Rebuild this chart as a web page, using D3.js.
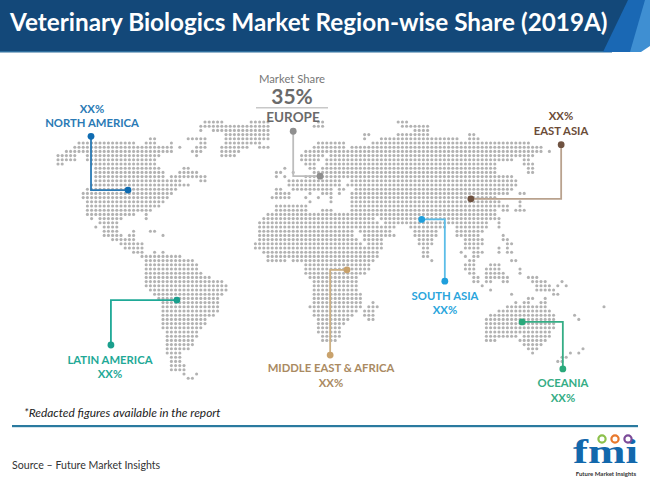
<!DOCTYPE html>
<html>
<head>
<meta charset="utf-8">
<script src="https://cdn.jsdelivr.net/npm/d3@7"></script>
<style>
html, body { margin: 0; padding: 0; background: #fff; }
svg { display: block; }
text { font-family: Lato, "Open Sans", sans-serif; }
</style>
</head>
<body>
<script>
// dot map, every entry is [row, first column, last column]
var arctic = [[0,35,39],[0,46,50],[1,34,39],[1,40,50],[2,34,34],[2,37,50],[3,40,50],[4,40,50],[5,40,48],[6,39,45],[6,48,50],[7,39,43],[8,39,42]];
var northAmerica = [[4,22,23],[4,31,33],[4,34,35],[5,5,13],[5,14,18],[5,21,22],[5,23,23],[5,27,27],[5,34,35],[6,4,27],[6,29,29],[6,33,35],[7,2,27],[7,32,34],[8,0,4],[8,7,24],[8,33,33],[9,0,4],[9,7,23],[10,0,1],[10,8,23],[11,9,24],[11,30,31],[12,9,25],[12,29,33],[13,9,25],[13,27,35],[14,9,29],[14,34,35],[15,8,31],[16,7,28],[17,6,27],[18,6,26],[19,7,25],[20,7,24],[21,7,22],[22,7,18],[22,21,21],[23,8,8],[23,10,15],[23,21,21],[24,10,14],[25,9,9],[25,11,14],[26,11,14],[26,18,18],[26,22,23],[27,11,15],[27,17,18],[27,25,25],[28,13,18],[29,15,20],[30,16,20],[31,18,20],[31,23,23],[31,25,25],[32,20,29]];
var southAmerica = [[33,21,32],[34,21,33],[35,21,33],[36,21,34],[37,21,36],[38,21,39],[39,21,40],[40,22,40],[41,23,39],[42,24,38],[43,25,38],[44,25,38],[45,25,38],[46,25,37],[47,25,35],[48,25,35],[49,25,34],[50,26,33],[51,26,33],[52,26,32],[53,26,32],[54,26,31],[55,26,29],[56,27,29],[57,27,29],[58,27,30],[59,27,30],[60,30,30],[60,33,33],[61,31,32]];
var eurasia = [[0,62,63],[0,81,83],[1,61,63],[1,82,88],[2,85,88],[3,73,74],[3,81,88],[3,98,99],[4,73,73],[4,77,95],[4,98,100],[5,62,68],[5,75,112],[6,61,68],[6,70,115],[7,59,68],[7,69,115],[7,117,117],[8,58,63],[8,65,113],[9,58,62],[9,64,108],[9,111,112],[10,59,61],[10,64,104],[10,111,113],[11,54,54],[11,60,61],[11,63,104],[11,112,113],[12,52,53],[12,56,56],[12,61,104],[12,112,113],[13,52,52],[13,54,54],[13,59,108],[14,55,67],[14,70,109],[15,55,67],[15,69,109],[16,52,53],[16,56,65],[16,67,68],[16,71,108],[17,52,55],[17,60,60],[17,63,65],[17,67,67],[17,70,107],[17,110,111],[18,51,55],[18,59,59],[18,62,62],[18,65,65],[18,70,104],[19,60,60],[19,65,65],[19,70,105],[19,110,110],[20,70,107],[20,110,110],[21,63,65],[21,70,104],[21,106,107],[21,109,111],[22,71,104],[23,70,75],[23,77,105],[24,71,76],[24,78,102],[24,105,105],[25,71,80],[25,84,92],[25,95,102],[25,105,105],[26,72,79],[26,85,90],[26,95,101],[27,73,80],[27,85,90],[27,95,100],[27,106,106],[28,73,77],[28,86,89],[28,97,101],[28,106,107],[29,74,77],[29,86,89],[29,97,101],[29,107,108],[30,74,77],[30,87,88],[30,97,100],[30,105,105],[30,107,107],[31,75,76],[31,87,88],[31,96,96],[31,99,101],[31,105,105],[31,107,108],[32,87,88],[32,97,97],[32,99,100],[33,89,89],[33,98,99],[33,108,109]];
var africa = [[20,52,59],[21,52,59],[22,50,70],[23,49,69],[24,48,70],[25,48,70],[26,48,70],[27,48,70],[28,48,71],[29,47,72],[30,47,73],[31,49,74],[32,50,76],[33,50,54],[33,56,75],[34,59,74],[35,59,74],[36,59,73],[37,60,71],[38,61,71],[39,61,71],[40,61,71],[41,61,72],[42,61,72],[43,61,72],[43,75,75],[44,60,72],[44,74,76],[45,61,71],[45,73,75],[46,61,70],[46,73,75],[47,62,69],[47,74,75],[48,62,68],[49,62,67],[50,62,67],[51,63,67],[52,63,66]];
var oceania = [[34,97,99],[34,103,105],[35,97,99],[35,102,105],[35,110,110],[36,98,99],[36,102,106],[36,110,110],[37,99,100],[37,102,107],[37,112,112],[37,113,114],[38,99,100],[38,102,103],[38,106,107],[38,113,116],[38,120,120],[39,101,101],[39,114,117],[39,119,119],[39,121,121],[40,103,103],[40,114,118],[41,108,108],[41,118,119],[42,112,113],[42,116,116],[43,109,109],[43,111,112],[43,115,116],[44,107,116],[44,130,130],[45,105,117],[46,103,118],[46,123,123],[47,102,118],[47,124,124],[48,102,118],[49,102,118],[50,102,117],[51,102,109],[51,111,117],[52,102,104],[52,110,116],[53,111,115],[54,112,114],[54,125,125],[55,113,113],[55,122,122],[55,124,124],[56,120,121],[57,119,120]];

var regionNames = ["NORTH AMERICA", "EUROPE", "EAST ASIA", "SOUTH ASIA", "OCEANIA", "MIDDLE EAST & AFRICA", "LATIN AMERICA"];
var regionShares = ["XX%", "35%", "XX%", "XX%", "XX%", "XX%", "XX%"];
var textColors = ["#2a7ab5", "#6a6a6a", "#6b4c38", "#2aa5dc", "#35ad85", "#aa8a62", "#1fa997"];
var lineColors = ["#2a7ab5", "#bdbdbd", "#b9a28e", "#5cbde8", "#35ad85", "#cdb083", "#1fa997"];
var dotColors = ["#0f6cb2", "#8f8f8f", "#6f5240", "#1f9fdc", "#2aa97b", "#c9a26c", "#1a9f8d"];

// leader lines in map grid units: first point is the outer dot, last one sits on the region
var leaders = [
  [[7.86, 3.4], [7.86, 16.2], [16.67, 16.2]],
  [[56, 2.2], [56, 12.9], [62.4, 12.9]],
  [[119.8, 5.4], [119.8, 18.3], [98.3, 18.3]],
  [[92.1, 37.9], [92.1, 23.2], [86.6, 23.2]],
  [[120.2, 58.8], [120.2, 47.6], [110.5, 47.6]],
  [[64.8, 55.5], [64.8, 35.2], [68.8, 35.2]],
  [[12.6, 53.1], [12.6, 42.4], [28.3, 42.4]]
];

var labelPos = [
  { x: 92, y: 113, y2: 127, first: "share" },
  { x: 293, y: 122, first: "name" },
  { x: 561, y: 120, y2: 135, first: "share" },
  { x: 445, y: 300, y2: 314, first: "name" },
  { x: 563, y: 387, y2: 402, first: "name" },
  { x: 331, y: 372, y2: 387, first: "name" },
  { x: 110, y: 364, y2: 378, first: "name" }
];

var width = 650, height = 480;

var svg = d3.select("body")
            .append("svg")
            .attr("width", width)
            .attr("height", height);

var x = d3.scaleLinear().domain([0, 130]).range([58, 604]);
var y = d3.scaleLinear().domain([0, 61]).range([122, 378.2]);

// header band
svg.append("rect").attr("width", width).attr("height", 52).attr("fill", "#134879");
svg.append("rect").attr("y", 51).attr("width", 612).attr("height", 1.5).attr("fill", "#2f6f9e");
svg.append("path").attr("d", "M628,0 L650,0 L650,52 L603,52 Z").attr("fill", "#1a68b4");
svg.append("path").attr("d", "M645,0 L650,0 L650,52 L630,52 Z").attr("fill", "#3f8fd2");
svg.append("path").attr("d", "M650,46 L650,52 L641,52 Z").attr("fill", "#fff");

svg.append("text")
   .attr("x", 10).attr("y", 31)
   .attr("font-size", 24.3).attr("font-weight", 700).attr("fill", "#fff")
   .text("Veterinary Biologics Market Region-wise Share (2019A)");

// dot map
var landmasses = [arctic, northAmerica, southAmerica, eurasia, africa, oceania];
var dots = [];
landmasses.forEach(function(land) {
    land.forEach(function(span) {
        d3.range(span[1], span[2] + 1).forEach(function(col) {
            dots.push({ row: span[0], col: col });
        });
    });
});

svg.append("g").selectAll("circle")
   .data(dots)
   .enter().append("circle")
   .attr("cx", function(d) { return x(d.col); })
   .attr("cy", function(d) { return y(d.row); })
   .attr("r", 1.55)
   .attr("fill", "#b2b2b2");

// callouts
var line = d3.line()
             .x(function(d) { return x(d[0]); })
             .y(function(d) { return y(d[1]); });

leaders.forEach(function(pts, i) {
    var g = svg.append("g");
    g.append("path")
     .attr("d", line(pts))
     .attr("fill", "none")
     .attr("stroke", lineColors[i])
     .attr("stroke-width", 1.8);
    g.selectAll("circle")
     .data([pts[0], pts[2]])
     .enter().append("circle")
     .attr("cx", function(d) { return x(d[0]); })
     .attr("cy", function(d) { return y(d[1]); })
     .attr("r", 3.4)
     .attr("fill", dotColors[i]);
});

regionNames.forEach(function(name, i) {
    var p = labelPos[i];
    function label(txt, yy, size) {
        svg.append("text")
           .attr("x", p.x).attr("y", yy)
           .attr("text-anchor", "middle")
           .attr("font-size", size)
           .attr("font-weight", 700)
           .attr("fill", textColors[i])
           .text(txt);
    }
    if (i === 1) {
        label(name, p.y, 13.5);
    } else if (p.first === "share") {
        label(regionShares[i], p.y, 11.3);
        label(name, p.y2, 11.3);
    } else {
        label(name, p.y, 11.3);
        label(regionShares[i], p.y2, 11.3);
    }
});

// big europe figure
svg.append("text").attr("x", 292).attr("y", 83)
   .attr("text-anchor", "middle").attr("font-size", 11.3).attr("fill", "#777")
   .text("Market Share");
svg.append("text").attr("x", 292).attr("y", 104)
   .attr("text-anchor", "middle").attr("font-size", 21).attr("font-weight", 700).attr("fill", "#6a6a6a")
   .text(regionShares[1]);
svg.append("rect").attr("x", 256).attr("y", 107).attr("width", 72).attr("height", 1.5).attr("fill", "#c8c8c8");

// footer
svg.append("text").attr("x", 24).attr("y", 417)
   .attr("font-size", 11.9).attr("font-style", "italic").attr("fill", "#222")
   .text("*Redacted figures available in the report");

svg.append("rect").attr("x", 12).attr("y", 425).attr("width", 626).attr("height", 2.2).attr("fill", "#2a7a9f");

svg.append("text").attr("x", 12).attr("y", 469)
   .attr("font-size", 10.6).attr("fill", "#333")
   .text("Source \u2013 Future Market Insights");

// logo
svg.append("text").attr("x", 573).attr("y", 463)
   .attr("textLength", 65).attr("lengthAdjust", "spacingAndGlyphs")
   .attr("font-size", 33).attr("font-weight", 700).attr("fill", "#1268ac")
   .style("font-family", "'Liberation Serif', serif")
   .text("fmi");

var logoDots = [[602, "#8cc04b"], [615, "#e8782c"], [628, "#7b4a98"]];
svg.selectAll(".logodot")
   .data(logoDots)
   .enter().append("circle")
   .attr("class", "logodot")
   .attr("cx", function(d) { return d[0]; })
   .attr("cy", 439)
   .attr("r", 3.6)
   .attr("fill", "#fff")
   .attr("stroke", function(d) { return d[1]; })
   .attr("stroke-width", 2.2);

svg.append("text").attr("x", 606).attr("y", 476)
   .attr("text-anchor", "middle")
   .attr("font-size", 6).attr("font-weight", 700).attr("fill", "#333")
   .text("Future Market Insights");
</script>
</body>
</html>
